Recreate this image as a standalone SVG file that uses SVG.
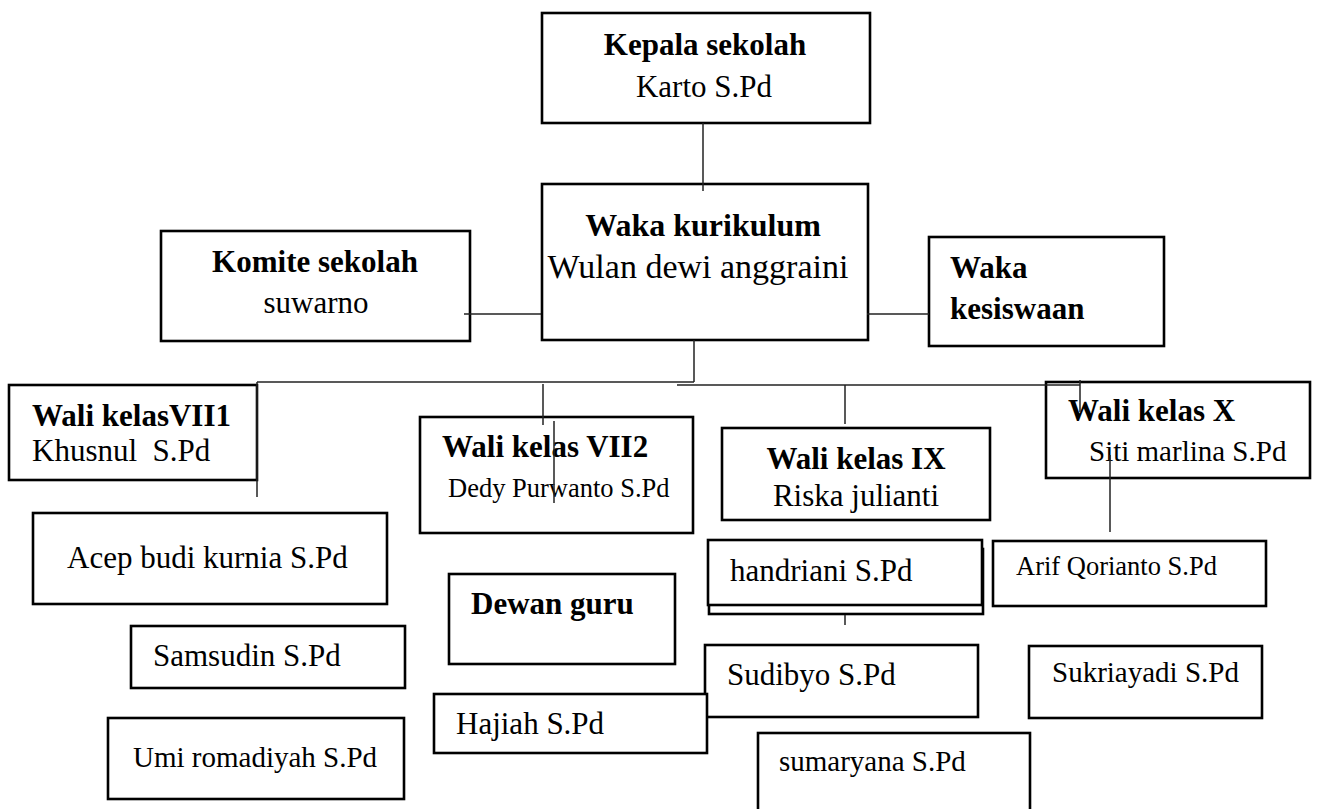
<svg xmlns="http://www.w3.org/2000/svg" width="1330" height="809" viewBox="0 0 1330 809">
<style>
rect{fill:#fff;stroke:#000;stroke-width:2.6}
text{font-family:"Liberation Serif","Times New Roman",serif;font-size:31px;fill:#000}
.b{font-weight:bold}
.c{text-anchor:middle}
.s{font-size:26.5px}
.m{font-size:29px}
#connectors line{stroke:#222;stroke-width:1.5}
</style>
<rect x="0" y="0" width="1330" height="809" style="stroke:none"/>
<g id="n-kepala"><rect x="542" y="13" width="328" height="110"/><text class="b c" x="705" y="55">Kepala sekolah</text><text class="c" x="704" y="97">Karto S.Pd</text></g>
<g id="n-wakakur"><rect x="542" y="184" width="326" height="156"/><text class="b c" x="703" y="236" style="font-size:32px">Waka kurikulum</text><text class="c" x="698" y="278" style="font-size:34px">Wulan dewi anggraini</text></g>
<g id="n-komite"><rect x="161" y="231" width="309" height="110"/><text class="b c" x="315" y="272">Komite sekolah</text><text class="c" x="316" y="313">suwarno</text></g>
<g id="n-kesiswaan"><rect x="929" y="237" width="235" height="109"/><text class="b" x="950" y="278">Waka</text><text class="b" x="950" y="319">kesiswaan</text></g>
<g id="n-vii1"><rect x="9" y="385" width="248" height="95"/><text class="b" x="32" y="426">Wali kelasVII1</text><text x="32" y="461" xml:space="preserve">Khusnul  S.Pd</text></g>
<g id="n-vii2"><rect x="420" y="417" width="273" height="116"/><text class="b" x="442" y="457">Wali kelas VII2</text><text class="s" x="448" y="497">Dedy Purwanto S.Pd</text></g>
<g id="n-ix"><rect x="722" y="428" width="268" height="92"/><text class="b c" x="856" y="469">Wali kelas IX</text><text class="c" x="856" y="506">Riska julianti</text></g>
<g id="n-x"><rect x="1046" y="382" width="264" height="96"/><text class="b" x="1068" y="421">Wali kelas X</text><text class="m" x="1089" y="461">Siti marlina S.Pd</text></g>
<g id="n-acep"><rect x="33" y="513" width="354" height="91"/><text x="67" y="568">Acep budi kurnia S.Pd</text></g>
<g id="n-samsudin"><rect x="131" y="626" width="274" height="62"/><text x="153" y="666">Samsudin S.Pd</text></g>
<g id="n-umi"><rect x="108" y="718" width="296" height="81"/><text class="m" x="133" y="767">Umi romadiyah S.Pd</text></g>
<g id="n-dewan"><rect x="449" y="574" width="226" height="90"/><text class="b" x="471" y="614">Dewan guru</text></g>
<g id="n-handriani"><rect x="709" y="549" width="274" height="65"/><rect x="708" y="540" width="274" height="65"/><text x="730" y="581">handriani S.Pd</text></g>
<g id="n-arif"><rect x="993" y="541" width="273" height="65"/><text class="s" x="1016" y="575">Arif Qorianto S.Pd</text></g>
<g id="n-sudibyo"><rect x="705" y="645" width="273" height="72"/><text x="727" y="685">Sudibyo S.Pd</text></g>
<g id="n-sukriayadi"><rect x="1029" y="646" width="233" height="72"/><text class="m" x="1052" y="682">Sukriayadi S.Pd</text></g>
<g id="n-hajiah"><rect x="434" y="694" width="273" height="59"/><text x="456" y="734">Hajiah S.Pd</text></g>
<g id="n-sumaryana"><rect x="758" y="733" width="272" height="90"/><text class="m" x="779" y="771">sumaryana S.Pd</text></g>
<g id="connectors">
<line x1="703" y1="123" x2="703" y2="191"/>
<line x1="464" y1="314" x2="541" y2="314"/>
<line x1="867" y1="314" x2="929" y2="314"/>
<line x1="694" y1="340" x2="694" y2="382"/>
<line x1="257" y1="382" x2="694" y2="382"/>
<line x1="257" y1="382" x2="257" y2="497"/>
<line x1="677" y1="385" x2="1080" y2="385"/>
<line x1="543" y1="384" x2="543" y2="425"/>
<line x1="554" y1="421" x2="554" y2="503"/>
<line x1="845" y1="385" x2="845" y2="424"/>
<line x1="1080" y1="380" x2="1080" y2="412"/>
<line x1="1110" y1="455" x2="1110" y2="532"/>
<line x1="845" y1="615" x2="845" y2="625"/>
</g>
</svg>
